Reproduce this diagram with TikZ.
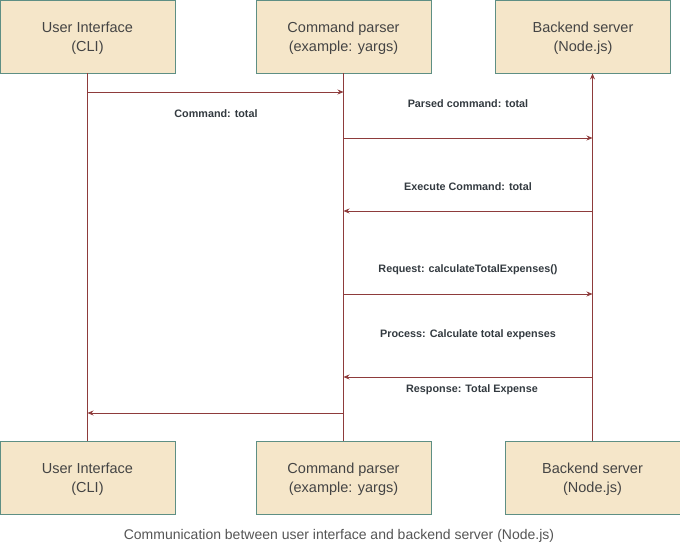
\documentclass[tikz,border=0pt]{standalone}
\usepackage{fontspec}
\setmainfont{Liberation Sans}
\usetikzlibrary{arrows.meta}
\definecolor{boxfill}{HTML}{F5E6C9}
\definecolor{boxline}{HTML}{5E8F84}
\definecolor{wire}{HTML}{8E3B3B}
\definecolor{boxtext}{HTML}{444444}
\definecolor{lbltext}{HTML}{333A40}
\definecolor{captext}{HTML}{555555}
\begin{document}
\begin{tikzpicture}[x=1pt,y=-1pt,
  actor/.style={draw=boxline,line width=0.9pt,fill=boxfill,minimum width=175pt,minimum height=73pt,
    align=center,font=\fontsize{14.5}{19}\selectfont,text=boxtext,inner sep=0pt},
  life/.style={draw=wire,line width=0.8pt},
  msg/.style={draw=wire,line width=0.8pt,-{Stealth[length=6pt,width=5pt]}},
  lbl/.style={font=\fontsize{10.8}{12}\selectfont\bfseries,text=lbltext,inner sep=0pt},
  captionstyle/.style={font=\fontsize{14}{16}\selectfont,text=captext,inner sep=0pt}]
\useasboundingbox (0,0) rectangle (680,545);
\node[actor] (uiT) at (87.5,36.5) {\strut User Interface\\(CLI)};
\node[actor] (cpT) at (343.5,36.5) {\strut Command parser\\(example: yargs)};
\node[actor] (beT) at (583,36.5) {\strut Backend server\\(Node.js)};
\node[actor] (uiB) at (87.5,477.5) {\strut User Interface\\(CLI)};
\node[actor] (cpB) at (343.5,477.5) {\strut Command parser\\(example: yargs)};
\node[actor] (beB) at (592.5,477.5) {\strut Backend server\\(Node.js)};
\draw[life] (uiT.south) -- (uiB.north);
\draw[life] (cpT.south) -- (cpB.north);
\draw[msg] (beB.north) -- (beB.north |- beT.south);
\coordinate (a1) at (87.5,92);  \coordinate (b1) at (343.5,92);
\coordinate (a2) at (343.5,138); \coordinate (b2) at (592.5,138);
\coordinate (a3) at (592.5,211); \coordinate (b3) at (343.5,211);
\coordinate (a4) at (343.5,294); \coordinate (b4) at (592.5,294);
\coordinate (a5) at (592.5,377); \coordinate (b5) at (343.5,377);
\coordinate (a6) at (343.5,413); \coordinate (b6) at (87.5,413);
\draw[msg] (a1) -- (b1);
\draw[msg] (a2) -- (b2);
\draw[msg] (a3) -- (b3);
\draw[msg] (a4) -- (b4);
\draw[msg] (a5) -- (b5);
\draw[msg] (a6) -- (b6);
\node[lbl] (l1) at (216,114) {Command: total};
\node[lbl] (l2) at (468,104) {Parsed command: total};
\node[lbl] (l3) at (468,187) {Execute Command: total};
\node[lbl] (l4) at (468,270) {Request: calculateTotalExpenses()};
\node[lbl] (l5) at (468,335) {Process: Calculate total expenses};
\node[lbl] (l6) at (472,390) {Response: Total Expense};
\node[captionstyle] (capnode) at (339,536) {Communication between user interface and backend server (Node.js)};
\end{tikzpicture}
\end{document}
